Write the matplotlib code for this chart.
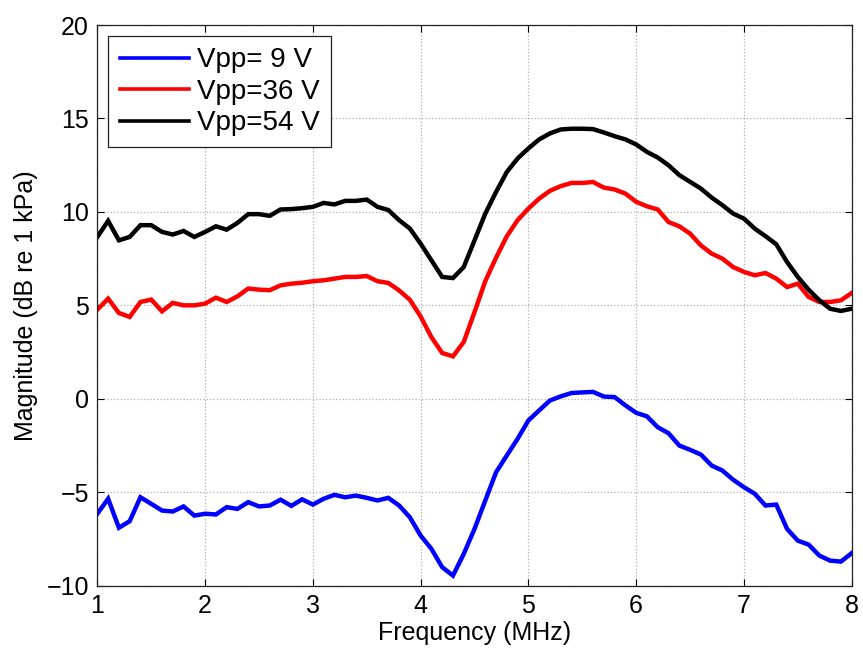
import numpy as np
import matplotlib
matplotlib.use("Agg")
import matplotlib.pyplot as plt

plt.rcParams["font.family"] = ["Liberation Sans", "DejaVu Sans"]

# Frequency axis (MHz), sampled every 0.1 MHz
freq = np.linspace(1.0, 8.0, 71)

# Magnitude (dB re 1 kPa) for each drive voltage
mag_9v = [
    -6.15, -5.35, -6.90, -6.55, -5.27, -5.62, -5.98, -6.03, -5.76, -6.25,
    -6.15, -6.19, -5.80, -5.89, -5.53, -5.76, -5.71, -5.40, -5.73, -5.38,
    -5.66, -5.35, -5.14, -5.27, -5.18, -5.30, -5.44, -5.30, -5.71, -6.34,
    -7.32, -8.03, -9.01, -9.46, -8.30, -6.96, -5.44, -3.93, -3.03, -2.14,
    -1.16, -0.62, -0.09, 0.13, 0.31, 0.34, 0.37, 0.12, 0.09, -0.35,
    -0.75, -0.94, -1.52, -1.84, -2.50, -2.73, -2.98, -3.57, -3.84, -4.33,
    -4.73, -5.08, -5.71, -5.66, -6.96, -7.59, -7.80, -8.39, -8.66, -8.71,
    -8.26,
]
mag_36v = [
    4.77, 5.36, 4.59, 4.38, 5.18, 5.31, 4.68, 5.13, 5.00, 5.00,
    5.09, 5.41, 5.18, 5.48, 5.90, 5.84, 5.81, 6.07, 6.16, 6.21,
    6.29, 6.34, 6.43, 6.52, 6.52, 6.57, 6.29, 6.20, 5.80, 5.30,
    4.40, 3.30, 2.45, 2.27, 3.04, 4.64, 6.30, 7.55, 8.70, 9.56,
    10.18, 10.71, 11.13, 11.38, 11.55, 11.55, 11.60, 11.30, 11.20, 10.98,
    10.54, 10.30, 10.13, 9.46, 9.23, 8.84, 8.21, 7.77, 7.50, 7.05,
    6.79, 6.61, 6.73, 6.43, 5.98, 6.16, 5.45, 5.18, 5.18, 5.27,
    5.66,
]
mag_54v = [
    8.66, 9.52, 8.48, 8.66, 9.29, 9.29, 8.93, 8.79, 8.98, 8.66,
    8.93, 9.23, 9.05, 9.41, 9.88, 9.88, 9.79, 10.13, 10.15, 10.20,
    10.27, 10.48, 10.40, 10.59, 10.59, 10.66, 10.27, 10.10, 9.56, 9.11,
    8.30, 7.41, 6.52, 6.46, 7.05, 8.48, 9.91, 11.07, 12.14, 12.86,
    13.40, 13.88, 14.20, 14.41, 14.45, 14.45, 14.43, 14.25, 14.05, 13.88,
    13.61, 13.21, 12.91, 12.50, 11.97, 11.61, 11.25, 10.77, 10.36, 9.91,
    9.64, 9.11, 8.70, 8.27, 7.32, 6.52, 5.84, 5.27, 4.82, 4.70,
    4.82,
]

series_labels = ["Vpp= 9 V", "Vpp=36 V", "Vpp=54 V"]
series_colors = ["#0000ff", "#ff0000", "#000000"]

x_ticks = [1, 2, 3, 4, 5, 6, 7, 8]
y_ticks = [-10, -5, 0, 5, 10, 15, 20]

fig = plt.figure(figsize=(8.63, 6.60), dpi=100)
ax = fig.add_axes([0.1128, 0.1126, 0.8741, 0.8495])

for values, label, color in zip([mag_9v, mag_36v, mag_54v], series_labels, series_colors):
    ax.plot(freq, values, color=color, lw=3.2, label=label, solid_joinstyle="miter")

ax.set_xlim(1, 8)
ax.set_ylim(-10, 20)
ax.set_xticks(x_ticks)
ax.set_yticks(y_ticks)
ax.tick_params(direction="in", top=True, right=True, length=5, width=0.8,
               labelsize=18, pad=6)
ax.grid(True, linestyle=":", color="#b0b0b0", linewidth=0.9)
for spine in ax.spines.values():
    spine.set_linewidth(0.9)
    spine.set_color("#222222")

ax.set_xlabel("Frequency (MHz)", fontsize=18, labelpad=2)
ax.set_ylabel("Magnitude (dB re 1 kPa)", fontsize=18, labelpad=6)

leg = ax.legend(loc="upper left", fontsize=20, frameon=True, fancybox=False,
                edgecolor="#222222", framealpha=1.0, handlelength=2.5,
                handletextpad=0.3, borderpad=0.4, labelspacing=0.2,
                borderaxespad=0.4)
leg.get_frame().set_linewidth(0.9)
for handle in leg.get_lines():
    handle.set_linewidth(2.6)

fig.savefig("out.png", dpi=100)
